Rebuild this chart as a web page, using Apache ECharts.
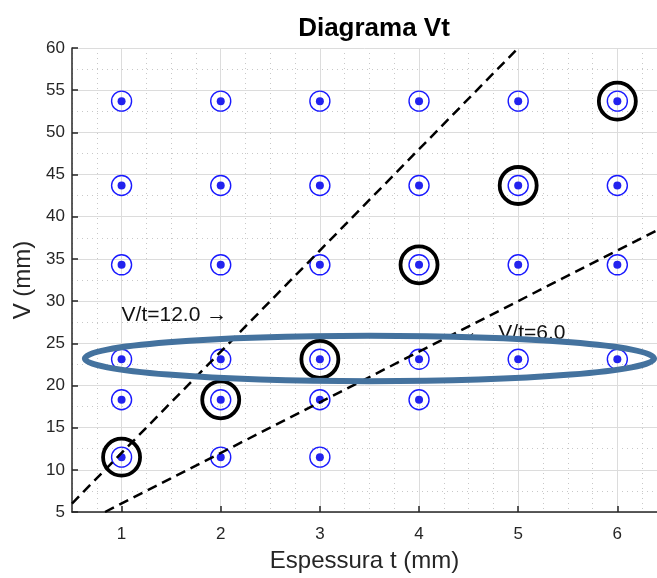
<!DOCTYPE html>
<html lang="pt">
<head>
  <meta charset="UTF-8">
  <title>Diagrama Vt</title>
  <style>
    * { margin: 0; padding: 0; box-sizing: border-box; }
    body { background: #fff; }
    #chart { width: 657px; height: 578px; }
  </style>
  <script src="https://cdn.jsdelivr.net/npm/echarts@6/dist/echarts.min.js"></script>
</head>
<body>
  <div id="chart"></div>
  <script>
    // pontos medidos (t, V)
    const gridPoints = [
      [1, 11.5], [1, 18.3], [1, 23.1], [1, 34.3], [1, 43.7], [1, 53.7],
      [2, 11.5], [2, 18.3], [2, 23.1], [2, 34.3], [2, 43.7], [2, 53.7],
      [3, 11.5], [3, 18.3], [3, 23.1], [3, 34.3], [3, 43.7], [3, 53.7],
      [4, 18.3], [4, 23.1], [4, 34.3], [4, 43.7], [4, 53.7],
      [5, 23.1], [5, 34.3], [5, 43.7], [5, 53.7],
      [6, 23.1], [6, 34.3], [6, 43.7], [6, 53.7]
    ];
    // pontos destacados (circulos pretos)
    const highlighted = [[1, 11.5], [2, 18.3], [3, 23.1], [4, 34.3], [5, 43.7], [6, 53.7]];
    // retas V/t
    const line12 = [[0.5, 6], [5, 60]];
    const line6 = [[0.833, 5], [6.4, 38.4]];
    const annotationTexts = ['V/t=12.0 \u2192', '\u2190  V/t=6.0'];
    const annotationPoints = [[1.0, 28.35], [4.47, 26.2]];
    // elipse: centro t, centro V, raio t, raio V
    const ellipseData = [[3.5, 23.2, 2.87, 2.7]];
    const xTicks = [1, 2, 3, 4, 5, 6];

    const chart = echarts.init(document.getElementById('chart'));
    const textColor = '#262626';
    const fontFamily = '"Liberation Sans", Arial, sans-serif';
    const minorLine = { color: '#c8c8c8', type: [1, 4], width: 1 };

    chart.setOption({
      backgroundColor: '#fff',
      animation: false,
      title: {
        text: 'Diagrama Vt',
        left: 369, top: 11, textAlign: 'center',
        textStyle: { fontFamily, fontSize: 26, fontWeight: 'bold', color: '#000' }
      },
      grid: { left: 72, top: 48, right: 0, bottom: 60, containLabel: false },
      xAxis: [{
        type: 'value', min: 0.5, max: 6.4,
        name: 'Espessura t (mm)', nameLocation: 'middle', nameGap: 37,
        nameTextStyle: { fontFamily, fontSize: 24, color: textColor },
        axisLine: { show: true, onZero: false, lineStyle: { color: textColor, width: 1.5 } },
        axisTick: { show: true, inside: true, length: 6, customValues: xTicks, lineStyle: { color: textColor, width: 1.5 } },
        axisLabel: { customValues: xTicks, margin: 14, fontFamily, fontSize: 17, color: textColor },
        splitLine: { show: true, customValues: xTicks, lineStyle: { color: '#dcdcdc', width: 1 } },
        z: 1
      }, {
        type: 'value', min: 0.5, max: 6.4, interval: 0.25, position: 'bottom',
        axisLine: { show: false }, axisTick: { show: false }, axisLabel: { show: false },
        splitLine: { show: true, lineStyle: minorLine },
        z: 0
      }],
      yAxis: [{
        type: 'value', min: 5, max: 60, interval: 5,
        name: 'V (mm)', nameLocation: 'middle', nameGap: 35,
        nameTextStyle: { fontFamily, fontSize: 24, color: textColor },
        axisLine: { show: true, onZero: false, lineStyle: { color: textColor, width: 1.5 } },
        axisTick: { show: true, inside: true, length: 6, lineStyle: { color: textColor, width: 1.5 } },
        axisLabel: { margin: 7, fontFamily, fontSize: 17, color: textColor },
        splitLine: { show: true, lineStyle: { color: '#dcdcdc', width: 1 } },
        z: 1
      }, {
        type: 'value', min: 5, max: 60, interval: 2.5, position: 'left',
        axisLine: { show: false }, axisTick: { show: false }, axisLabel: { show: false },
        splitLine: { show: true, lineStyle: minorLine },
        z: 0
      }],
      series: [
        {
          type: 'scatter', data: gridPoints, symbol: 'circle', symbolSize: 20, z: 2,
          itemStyle: { color: 'rgba(0,0,0,0)', borderColor: '#1a1aff', borderWidth: 1.4, opacity: 1 }
        },
        {
          type: 'scatter', data: gridPoints, symbol: 'circle', symbolSize: 8, z: 3,
          itemStyle: { color: '#2222ee', opacity: 1 }
        },
        {
          type: 'scatter', data: highlighted, symbol: 'circle', symbolSize: 37, z: 4,
          itemStyle: { color: 'rgba(0,0,0,0)', borderColor: '#000', borderWidth: 3.8, opacity: 1 }
        },
        {
          type: 'line', data: line12, symbol: 'none', z: 5,
          lineStyle: { color: '#000', width: 2.5, type: [10, 6] }
        },
        {
          type: 'line', data: line6, symbol: 'none', z: 5,
          lineStyle: { color: '#000', width: 2.5, type: [10, 6] }
        },
        {
          type: 'scatter', data: annotationPoints, symbolSize: 0, z: 6,
          itemStyle: { opacity: 1 },
          label: {
            show: true, position: 'right', distance: 0,
            formatter: p => annotationTexts[p.dataIndex],
            fontFamily, fontSize: 21, color: '#111'
          }
        },
        {
          type: 'custom', data: ellipseData, z: 7,
          renderItem: (params, api) => {
            const c = api.coord([api.value(0), api.value(1)]);
            const s = api.size([api.value(2), api.value(3)]);
            return {
              type: 'ellipse',
              shape: { cx: c[0], cy: c[1], rx: s[0], ry: s[1] },
              style: { fill: 'none', stroke: '#44729e', lineWidth: 6 }
            };
          }
        }
      ]
    });
  </script>
</body>
</html>
